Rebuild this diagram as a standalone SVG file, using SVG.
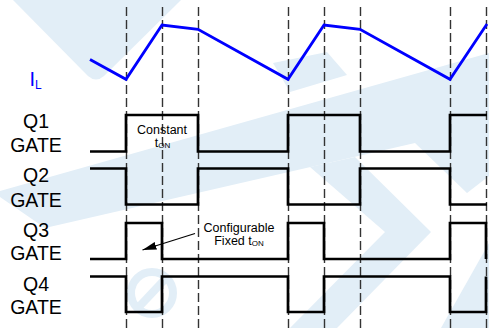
<svg xmlns="http://www.w3.org/2000/svg" width="489" height="328" viewBox="0 0 489 328">
<style>
.wm{fill:#E2EEF7;stroke:none}
.wmr{fill:none;stroke:#E2EEF7;stroke-width:8}
.grid line{stroke:#333;stroke-width:1.4;stroke-dasharray:9 4}
.wave{stroke:#000;stroke-width:2.7;fill:none;stroke-linejoin:miter;stroke-linecap:butt}
.il{stroke:#0000FF;stroke-width:2.8;fill:none;stroke-linejoin:miter}
.lbl{font-family:"Liberation Sans",Arial,sans-serif;font-size:19.5px;fill:#000;text-anchor:middle}
.note{font-family:"Liberation Sans",Arial,sans-serif;font-size:12.5px;fill:#000;text-anchor:middle}
.sub{font-size:8px}
</style>
<defs>
<marker id="ah" viewBox="0 0 14 8" refX="14" refY="4" markerWidth="14" markerHeight="8" markerUnits="userSpaceOnUse" orient="auto">
<path d="M0,0 L14,4 L0,8 Z" fill="#000"/>
</marker>
</defs>
<g id="watermark">
<path class="wm" d="M13,0 H181 L104,76 Q96,83 88,76 Z"/>
<polygon class="wm" points="273,63 327,52 347,75 290,92"/>
<polygon class="wm" points="0,191 489,53 489,176 467,193 415,143 45,228 0,197"/>
<polygon class="wm" points="355,157 431,232 337,328 290,328 385,232 310,167"/>
<polygon class="wm" points="489,243 441,328 489,328"/>
<circle class="wmr" cx="152" cy="293" r="21"/>
<line class="wmr" x1="136" y1="310" x2="168" y2="276"/>
</g>
<g id="gridlines" class="grid">
<line x1="126.5" y1="7" x2="126.5" y2="328"/>
<line x1="162.5" y1="7" x2="162.5" y2="328"/>
<line x1="198.5" y1="7" x2="198.5" y2="328"/>
<line x1="288.5" y1="7" x2="288.5" y2="328"/>
<line x1="324.5" y1="7" x2="324.5" y2="328"/>
<line x1="360.5" y1="7" x2="360.5" y2="328"/>
<line x1="450.5" y1="7" x2="450.5" y2="328"/>
<line x1="486.5" y1="7" x2="486.5" y2="328"/>
</g>
<g id="il">
<path class="il" d="M90,59.5 L126,79.3 L162,25 L198,29.3 L288,79.3 L324,25 L360,29.3 L450,79.3 L487,24"/>
<text x="29.5" y="86" font-family="Liberation Sans, Arial, sans-serif" font-size="20" fill="#0000FF">I<tspan font-size="12" dy="2.7">L</tspan></text>
</g>
<g id="q1">
<path class="wave" d="M90,151.5 H126 V115 H198 V151.5 H288 V115 H360 V151.5 H450 V115 H487"/>
<text class="lbl" x="36" y="128">Q1</text>
<text class="lbl" x="36" y="151.5">GATE</text>
</g>
<g id="q2">
<path class="wave" d="M90,168.5 H126 V204.5 H198 V168.5 H288 V204.5 H360 V168.5 H450 V204.5 H487"/>
<text class="lbl" x="36" y="182">Q2</text>
<text class="lbl" x="36" y="206.5">GATE</text>
</g>
<g id="q3">
<path class="wave" d="M90,259 H126 V223 H162 V259 H288 V223 H324 V259 H450 V223 H486 V259"/>
<text class="lbl" x="36" y="236.5">Q3</text>
<text class="lbl" x="36" y="260">GATE</text>
</g>
<g id="q4">
<path class="wave" d="M90,276.5 H126 V312 H162 V276.5 H288 V312 H324 V276.5 H450 V312 H486 V276.5"/>
<text class="lbl" x="36" y="290.5">Q4</text>
<text class="lbl" x="36" y="314">GATE</text>
</g>
<g id="constant-label">
<text class="note" x="162" y="134">Constant</text>
<text class="note" x="162.5" y="147">t<tspan class="sub" dy="1">ON</tspan></text>
</g>
<g id="fixed-label">
<text class="note" x="239" y="232">Configurable</text>
<text class="note" x="239" y="244.5">Fixed t<tspan class="sub" dy="1">ON</tspan></text>
</g>
<g id="connectors">
<line x1="195" y1="233.5" x2="142.5" y2="250" stroke="#000" stroke-width="1.2" marker-end="url(#ah)"/>
</g>
</svg>
